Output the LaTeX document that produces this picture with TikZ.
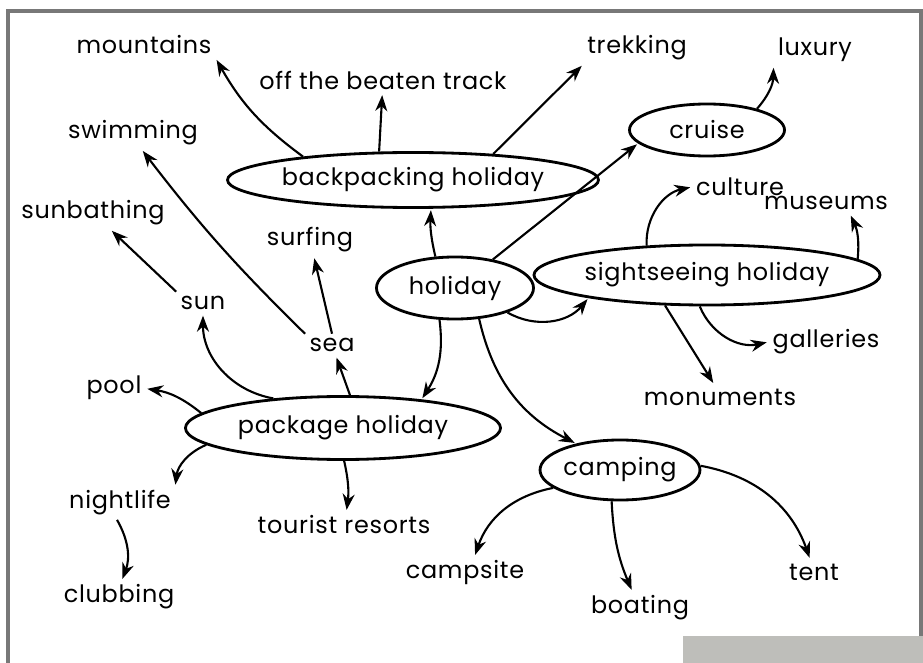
\documentclass[tikz,border=0pt]{standalone}
\usepackage{fontspec}
\setmainfont{Poppins}[LetterSpace=3]
\usetikzlibrary{shapes.geometric, arrows.meta}
\definecolor{framegray}{RGB}{120,120,120}
\definecolor{boxgray}{RGB}{190,190,186}

\begin{document}
\begin{tikzpicture}[x=0.025cm, y=-0.025cm]

\tikzset{
concept/.style = {ellipse, draw, line width = 2pt, inner sep = 0pt,
	font = \fontsize{17}{20}\selectfont},
word/.style = {inner sep = 3pt, font = \fontsize{17}{20}\selectfont},
link/.style = {-{Stealth[length = 4mm, width = 3mm]}, line width = 1.5pt,
	shorten > = 1pt},
	}

\useasboundingbox (0,0) rectangle (923,663);

%% Frame
\draw [framegray, line width = 2.2pt] (8,670) -- (8,11) -- (921,11) -- (921,670);
\fill [boxgray] (683,636) rectangle (923,663);

%% Concepts
\node at (455,288) [concept, minimum width = 3.925cm, minimum height = 1.55cm] (holiday) {holiday};
\node at (413,180) [concept, minimum width = 8cm, minimum height = 1.375cm] (backpacking) {backpacking holiday};
\node at (707,130) [concept, minimum width = 3.875cm, minimum height = 1.3cm] (cruise) {cruise};
\node at (707,275) [concept, minimum width = 7.95cm, minimum height = 1.5cm] (sightseeing) {sightseeing holiday};
\node at (343,428) [concept, minimum width = 7.875cm, minimum height = 1.575cm] (package) {package holiday};
\node at (620,470) [concept, minimum width = 3.95cm, minimum height = 1.5cm] (camping) {camping};

%% Words
% backpacking and cruise
\node at (144,45) [word] (mountains) {mountains};
\node at (383,80) [word] (offtrack) {off the beaten track};
\node at (637,48) [word] (trekking) {trekking};
\node at (815,50) [word] (luxury) {luxury};
% sightseeing
\node at (740,187) [word] (culture) {culture};
\node at (826,203) [word] (museums) {museums};
\node at (826,342) [word] (galleries) {galleries};
\node at (720,397) [word] (monuments) {monuments};
% package
\node at (133,133) [word] (swimming) {swimming};
\node at (93,213) [word] (sunbathing) {sunbathing};
\node at (310,240) [word] (surfing) {surfing};
\node at (203,303) [word] (sun) {sun};
\node at (332,345) [word] (sea) {sea};
\node at (114,388) [word] (pool) {pool};
\node at (120,503) [word] (nightlife) {nightlife};
\node at (119,597) [word] (clubbing) {clubbing};
\node at (344,525) [word] (resorts) {tourist resorts};
% camping
\node at (465,573) [word] (campsite) {campsite};
\node at (640,608) [word] (boating) {boating};
\node at (814,572) [word] (tent) {tent};

%% The links
\path [link] (holiday.122) edge [bend left = 8] (backpacking.-58);
\path [link] (holiday.37) edge [] (cruise.191);
\path [link] (holiday.-25) edge [bend right = 40] (sightseeing.191);
\path [link] (holiday.-116) edge [bend left = 20] (package.20);
\path [link] (holiday.-52) edge [bend right = 25] (camping.149);

\path [link] (backpacking.168) edge [bend left = 12] (mountains.south east);
\path [link] (backpacking.140) edge [] (offtrack);
\path [link] (backpacking.18) edge [] (trekking.south west);
\path [link] (cruise.23) edge [bend right = 20] (luxury.south west);

\path [link] (sightseeing.154) edge [bend left = 40] (culture.west);
\path [link] (sightseeing.6) edge [bend right = 15] (museums.-25);
\path [link] (sightseeing.-103) edge [bend right = 40] (galleries.west);
\path [link] (sightseeing.-144) edge [] (monuments.115);

\path [link] (package.78) edge [] (sea);
\path [link] (package.157) edge [bend left = 40] (sun.south);
\path [link] (sea.north west) edge [bend left = 4] (swimming.-62);
\path [link] (sea.north) edge [] (surfing);
\path [link] (sun.north west) edge [] (sunbathing);
\path [link] (package.174) edge [bend right = 15] (pool);
\path [link] (package.-173) edge [bend right = 30] (nightlife.north east);
\path [link] (package.-88) edge [bend left = 10] (resorts);
\path [link] (nightlife.-100) edge [bend left = 25] (clubbing.80);

\path [link] (camping.-165) edge [bend right = 30] (campsite.60);
\path [link] (camping.-105) edge [bend right = 10] (boating);
\path [link] (camping.3) edge [bend left = 30] (tent);

\end{tikzpicture}
\end{document}
